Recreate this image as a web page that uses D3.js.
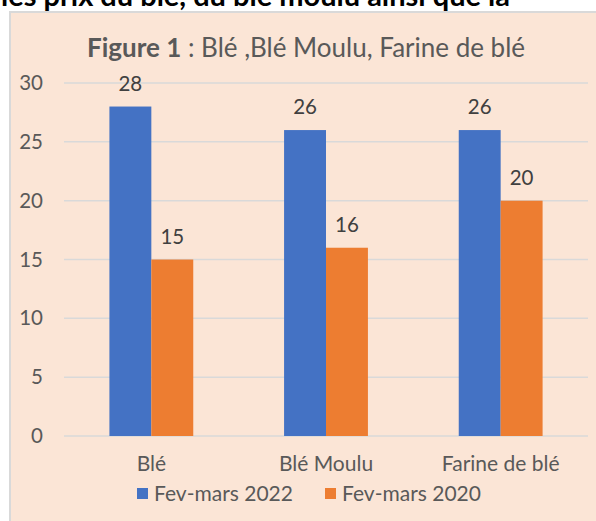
<!DOCTYPE html>
<html>
<head>
<meta charset="utf-8">
<script src="https://cdn.jsdelivr.net/npm/d3@7"></script>
<style>
  body { margin: 0; background: #fff; }
  svg { display: block; }
</style>
</head>
<body>
<div id="chart"></div>
<script>
const categories = ["Blé", "Blé Moulu", "Farine de blé"];
const seriesNames = ["Fev-mars 2022", "Fev-mars 2020"];
const values2022 = [28, 26, 26];
const values2020 = [15, 16, 20];
const yTicks = [0, 5, 10, 15, 20, 25, 30];
const colors = ["#4472c4", "#ed7d31"];

const W = 596, H = 521;
const margin = { top: 83, right: 8, bottom: 85, left: 64 },
      width = 588 - margin.left,
      height = 436 - margin.top;

const svg = d3.select("#chart")
    .append("svg")
    .attr("width", W)
    .attr("height", H)
    .style("font-family", "Lato, 'Open Sans', sans-serif");

// text cut off above the chart
svg.append("text")
    .attr("x", 1)
    .attr("y", 6)
    .attr("font-size", "29px")
    .attr("font-weight", "bold")
    .attr("fill", "#000")
    .text("les prix du blé, du blé moulu ainsi que la");

// chart area box
svg.append("rect")
    .attr("x", 10)
    .attr("y", 12)
    .attr("width", 600)
    .attr("height", 530)
    .attr("fill", "#fbe5d6")
    .attr("stroke", "#d9d9d9")
    .attr("stroke-width", 2);

const title = svg.append("text")
    .attr("x", 306)
    .attr("y", 57)
    .attr("text-anchor", "middle")
    .attr("font-size", "26px")
    .attr("fill", "#595959");
title.append("tspan").attr("font-weight", "bold").text("Figure 1");
title.append("tspan").text(" : Blé ,Blé Moulu, Farine de blé");

const g = svg.append("g")
    .attr("transform", `translate(${margin.left},${margin.top})`);

const x = d3.scaleBand()
    .domain(categories)
    .range([0, width])
    .paddingInner(0.52)
    .paddingOuter(0.26);

const xs = d3.scaleBand()
    .domain(seriesNames)
    .range([0, x.bandwidth()]);

const y = d3.scaleLinear()
    .domain([0, 30])
    .range([height, 0]);

// gridlines
g.append("g")
    .selectAll("line")
    .data(yTicks)
    .join("line")
    .attr("x1", 0)
    .attr("x2", width)
    .attr("y1", d => y(d))
    .attr("y2", d => y(d))
    .attr("stroke", "#d9d9d9")
    .attr("stroke-width", 1.5);

// y axis labels
const yAxis = g.append("g")
    .call(d3.axisLeft(y).tickValues(yTicks).tickSize(0).tickPadding(21));
yAxis.select(".domain").remove();
yAxis.selectAll("text")
    .attr("font-size", "20.5px")
    .attr("font-family", "Lato, sans-serif")
    .attr("fill", "#595959");

// x axis labels
const xAxis = g.append("g")
    .attr("transform", `translate(0,${height})`)
    .call(d3.axisBottom(x).tickSize(0).tickPadding(20));
xAxis.select(".domain").remove();
xAxis.selectAll("text")
    .attr("font-size", "21px")
    .attr("font-family", "Lato, sans-serif")
    .attr("fill", "#595959");

const data = categories.map((c, i) => ({
    category: c,
    vals: [
        { series: seriesNames[0], value: values2022[i], color: colors[0] },
        { series: seriesNames[1], value: values2020[i], color: colors[1] }
    ]
}));

const groups = g.selectAll(".group")
    .data(data)
    .join("g")
    .attr("class", "group")
    .attr("transform", d => `translate(${x(d.category)},0)`);

groups.selectAll("rect")
    .data(d => d.vals)
    .join("rect")
    .attr("x", d => xs(d.series))
    .attr("y", d => y(d.value))
    .attr("width", xs.bandwidth())
    .attr("height", d => height - y(d.value))
    .attr("fill", d => d.color);

groups.selectAll(".lbl")
    .data(d => d.vals)
    .join("text")
    .attr("class", "lbl")
    .attr("x", d => xs(d.series) + xs.bandwidth() / 2)
    .attr("y", d => y(d.value) - 16)
    .attr("text-anchor", "middle")
    .attr("font-size", "20.5px")
    .attr("fill", "#404040")
    .text(d => d.value);

// legend
const legendX = [137, 325];
const legend = svg.append("g")
    .selectAll("g")
    .data(seriesNames)
    .join("g")
    .attr("transform", (d, i) => `translate(${legendX[i]},488)`);
legend.append("rect")
    .attr("width", 11)
    .attr("height", 11)
    .attr("fill", (d, i) => colors[i]);
legend.append("text")
    .attr("x", 17)
    .attr("y", 13)
    .attr("font-size", "21px")
    .attr("fill", "#595959")
    .text(d => d);
</script>
</body>
</html>
